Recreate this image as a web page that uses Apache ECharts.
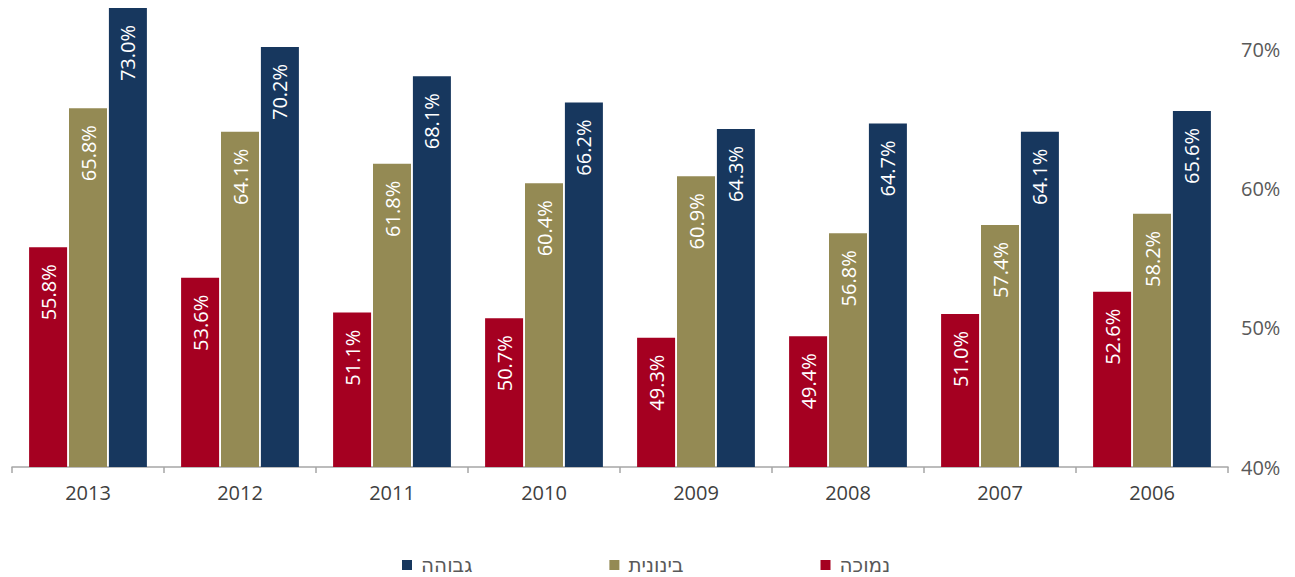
<!DOCTYPE html>
<html><head><meta charset="utf-8">
<script src="https://cdn.jsdelivr.net/npm/echarts@6/dist/echarts.min.js"></script>
<style>html,body{margin:0;padding:0;background:#fff}#c{width:1295px;height:577px}</style>
</head><body><div id="c"></div>
<script>
const categories = ['2013','2012','2011','2010','2009','2008','2007','2006'];
const seriesNames = ['נמוכה','בינונית','גבוהה'];
const lowValues = [55.8, 53.6, 51.1, 50.7, 49.3, 49.4, 51.0, 52.6];
const midValues = [65.8, 64.1, 61.8, 60.4, 60.9, 56.8, 57.4, 58.2];
const highValues = [73.0, 70.2, 68.1, 66.2, 64.3, 64.7, 64.1, 65.6];
const colors = ['#A50021', '#948A54', '#17375E'];
const FONT = '"Open Sans", "DejaVu Sans", sans-serif';

const chart = echarts.init(document.getElementById('c'), null, { renderer: 'svg' });
function mk(name, data, color) {
  return {
    name, type: 'bar', data, barWidth: 38, barGap: '5%',
    itemStyle: { color },
    label: {
      show: true, position: 'insideTop', rotate: 90, align: 'right', verticalAlign: 'middle',
      distance: 17, color: '#fff', fontSize: 20, fontFamily: FONT,
      formatter: p => p.value.toFixed(1) + '%'
    }
  };
}
chart.setOption({
  animation: false,
  grid: { left: 12, right: 67, top: 8, bottom: 110 },
  legend: {
    data: [seriesNames[2], seriesNames[1], seriesNames[0]],
    left: 397, top: 550, itemWidth: 10, itemHeight: 10, itemGap: 137,
    icon: 'rect',
    textStyle: { color: '#595959', fontSize: 20, fontFamily: '"DejaVu Sans", sans-serif', padding: [0, 0, 0, 4] }
  },
  xAxis: {
    type: 'category', data: categories,
    axisLine: { lineStyle: { color: '#A6A6A6', width: 1.5 } },
    axisTick: { show: true, length: 6, lineStyle: { color: '#A6A6A6', width: 1.5 } },
    axisLabel: { color: '#404040', fontSize: 20, fontFamily: FONT, margin: 15 }
  },
  yAxis: {
    type: 'value', position: 'right', min: 40, max: 73, interval: 10,
    axisLine: { show: false }, axisTick: { show: false }, splitLine: { show: false },
    axisLabel: { color: '#595959', fontSize: 20, fontFamily: FONT, margin: 13, showMaxLabel: false,
      formatter: v => (v % 10 === 0 ? v + '%' : '') }
  },
  series: [mk(seriesNames[0], lowValues, colors[0]), mk(seriesNames[1], midValues, colors[1]), mk(seriesNames[2], highValues, colors[2])]
});
</script></body></html>
